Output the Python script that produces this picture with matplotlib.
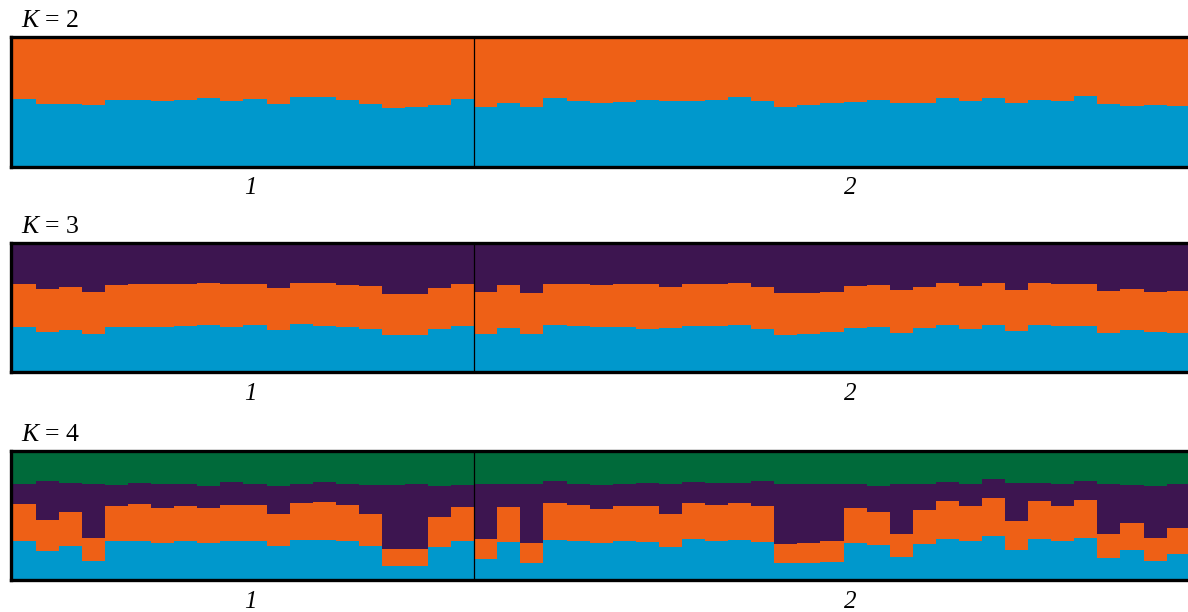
import matplotlib
matplotlib.use("Agg")
import matplotlib.pyplot as plt
import numpy as np

plt.rcParams['font.family'] = ['Liberation Serif', 'DejaVu Serif']
plt.rcParams['mathtext.fontset'] = 'custom'
plt.rcParams['mathtext.it'] = 'Liberation Serif:italic'
plt.rcParams['mathtext.rm'] = 'Liberation Serif'

# populations: sizes and labels
pop_sizes = [20, 31]
pop_labels = ['1', '2']
pop_label_x = [10.3, 36.3]

# K = 2: ancestry share of the blue cluster (orange is the rest)
k2_blue = [0.523, 0.487, 0.482, 0.477, 0.518, 0.518, 0.508, 0.515, 0.529, 0.510,
           0.523, 0.482, 0.536, 0.541, 0.515, 0.485, 0.456, 0.459, 0.477, 0.521,
           0.459, 0.490, 0.464, 0.529, 0.510, 0.495, 0.500, 0.515, 0.505, 0.508,
           0.515, 0.536, 0.508, 0.459, 0.477, 0.492, 0.502, 0.515, 0.490, 0.490,
           0.533, 0.505, 0.533, 0.490, 0.513, 0.505, 0.549, 0.487, 0.469, 0.477,
           0.469]

# K = 3: blue and orange shares (purple is the rest)
k3_blue = [0.350, 0.308, 0.329, 0.293, 0.350, 0.347, 0.352, 0.355, 0.363, 0.347,
           0.365, 0.324, 0.373, 0.360, 0.347, 0.336, 0.285, 0.285, 0.334, 0.360,
           0.298, 0.344, 0.293, 0.363, 0.357, 0.347, 0.350, 0.336, 0.344, 0.355,
           0.357, 0.363, 0.334, 0.287, 0.293, 0.313, 0.344, 0.350, 0.303, 0.342,
           0.365, 0.336, 0.365, 0.321, 0.363, 0.360, 0.360, 0.303, 0.329, 0.313,
           0.305]
k3_orange = [0.332, 0.336, 0.332, 0.331, 0.326, 0.339, 0.332, 0.329, 0.329, 0.339,
             0.319, 0.331, 0.316, 0.332, 0.329, 0.329, 0.321, 0.321, 0.321, 0.326,
             0.324, 0.329, 0.321, 0.319, 0.326, 0.329, 0.334, 0.345, 0.314, 0.326,
             0.324, 0.326, 0.329, 0.324, 0.319, 0.311, 0.326, 0.326, 0.332, 0.321,
             0.324, 0.334, 0.329, 0.316, 0.326, 0.324, 0.324, 0.324, 0.316, 0.311,
             0.326]

# K = 4: blue, orange and purple shares (green is the rest)
k4_blue = [0.307, 0.227, 0.266, 0.152, 0.305, 0.307, 0.289, 0.305, 0.289, 0.302,
           0.305, 0.264, 0.315, 0.315, 0.305, 0.264, 0.111, 0.111, 0.258, 0.302,
           0.163, 0.297, 0.136, 0.315, 0.307, 0.289, 0.302, 0.295, 0.256, 0.318,
           0.307, 0.312, 0.299, 0.132, 0.134, 0.144, 0.289, 0.274, 0.178, 0.284,
           0.320, 0.305, 0.343, 0.233, 0.320, 0.305, 0.326, 0.175, 0.233, 0.152,
           0.202]
k4_orange = [0.282, 0.238, 0.261, 0.178, 0.274, 0.284, 0.274, 0.274, 0.269, 0.281,
             0.279, 0.248, 0.282, 0.292, 0.277, 0.250, 0.134, 0.134, 0.235, 0.268,
             0.160, 0.271, 0.153, 0.282, 0.279, 0.266, 0.276, 0.284, 0.256, 0.284,
             0.277, 0.287, 0.277, 0.147, 0.155, 0.163, 0.269, 0.258, 0.183, 0.259,
             0.295, 0.271, 0.297, 0.227, 0.295, 0.269, 0.295, 0.186, 0.214, 0.174,
             0.204]
k4_purple = [0.160, 0.302, 0.227, 0.416, 0.163, 0.163, 0.181, 0.166, 0.175, 0.181,
             0.163, 0.222, 0.152, 0.157, 0.167, 0.225, 0.494, 0.499, 0.240, 0.171,
             0.422, 0.181, 0.460, 0.171, 0.163, 0.184, 0.171, 0.178, 0.237, 0.163,
             0.171, 0.155, 0.196, 0.465, 0.455, 0.437, 0.186, 0.202, 0.383, 0.206,
             0.147, 0.173, 0.143, 0.297, 0.142, 0.173, 0.150, 0.385, 0.295, 0.408,
             0.341]

BLUE = '#0098cc'
ORANGE = '#ee6016'
PURPLE = '#3d1550'
GREEN = '#006a3a'


def stack(k):
    if k == 2:
        b = np.array(k2_blue)
        return [(b, BLUE), (1 - b, ORANGE)]
    if k == 3:
        b, o = np.array(k3_blue), np.array(k3_orange)
        return [(b, BLUE), (o, ORANGE), (1 - b - o, PURPLE)]
    b, o, p = np.array(k4_blue), np.array(k4_orange), np.array(k4_purple)
    return [(b, BLUE), (o, ORANGE), (p, PURPLE), (1 - b - o - p, GREEN)]


W, H = 1188, 612
fig = plt.figure(figsize=(W / 100, H / 100), dpi=100)

n = sum(pop_sizes)
bar_px = 23.08
left_px = 10.8
pad = 0.08
x0, x1 = -pad, n + 0.1
ax_w = (x1 - x0) * bar_px
panels = [(2, 37.3, 166.7), (3, 243.3, 372.0), (4, 451.3, 580.3)]

for k, top, bot in panels:
    h = bot - top
    ax = fig.add_axes([left_px / W, 1 - bot / H, ax_w / W, h / H])
    x = np.arange(n)
    bottom = np.zeros(n)
    for vals, col in stack(k):
        ax.bar(x, vals, width=1.0, bottom=bottom, align='edge', color=col,
               linewidth=0, antialiased=False)
        bottom = bottom + vals
    ax.set_xlim(x0, x1)
    ax.set_ylim(0, 1)
    ax.set_xticks([])
    ax.set_yticks([])
    for s in ax.spines.values():
        s.set_linewidth(2.4)
        s.set_color('black')
    # population divider
    ax.axvline(pop_sizes[0], color='black', lw=0.9)

    ax.text((21 - left_px) / ax_w, 1 + 16.5 / h, r'$K$ = %d' % k,
            transform=ax.transAxes, ha='left', va='center', fontsize=18.5)
    for lx, lab in zip(pop_label_x, pop_labels):
        ax.text(lx, -21.5 / h, lab, transform=ax.get_xaxis_transform(),
                ha='center', va='center', fontsize=18, style='italic')

fig.savefig('out.png', dpi=100)
